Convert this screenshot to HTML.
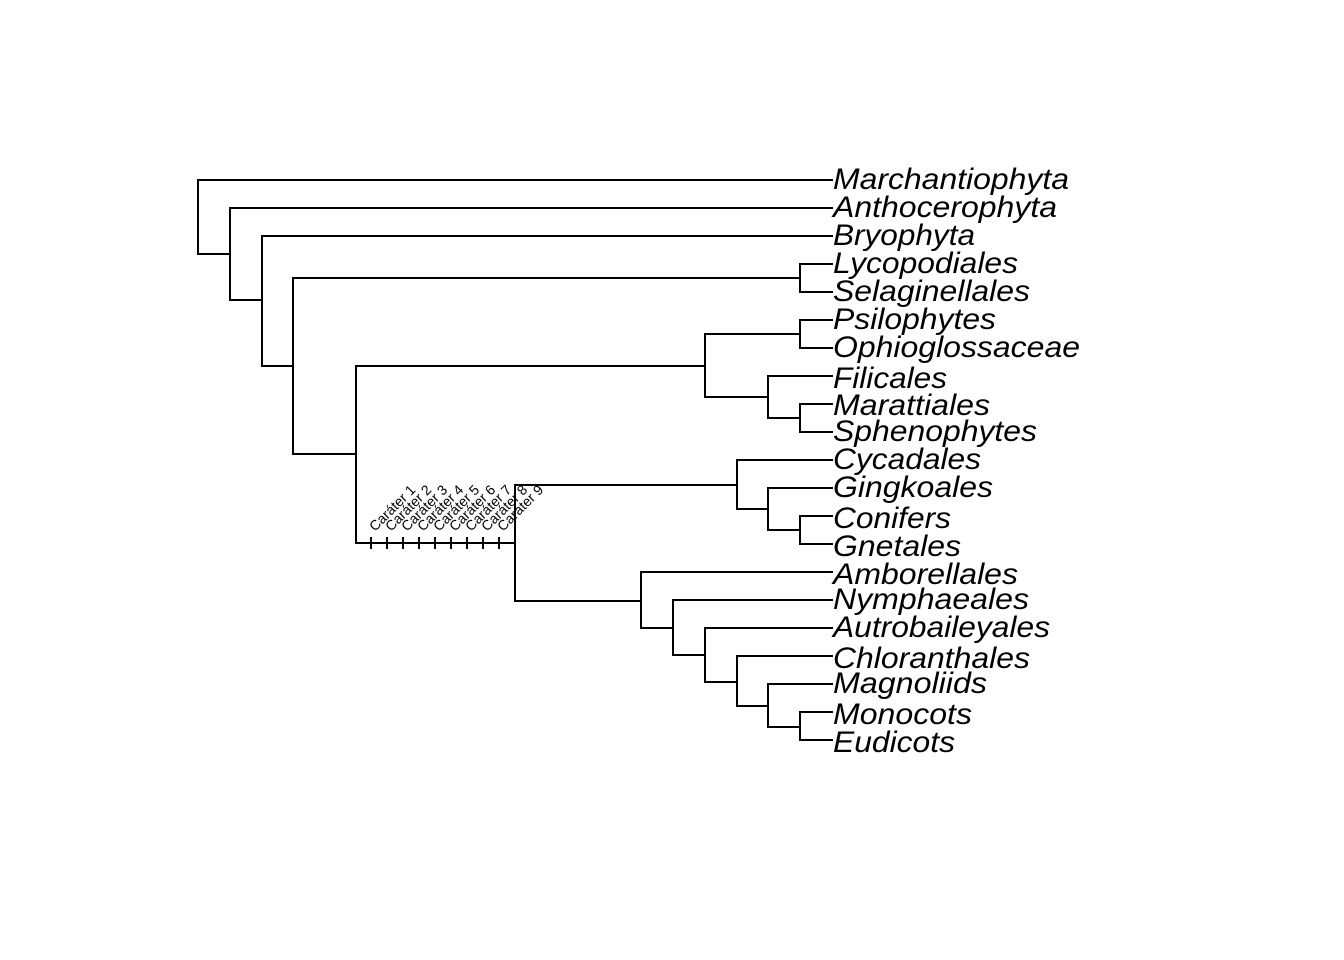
<!DOCTYPE html>
<html><head><meta charset="utf-8"><style>html,body{margin:0;padding:0;background:#fff}svg{display:block}</style></head>
<body>
<svg width="1344" height="960" xmlns="http://www.w3.org/2000/svg">
<g stroke="#000" stroke-width="2" fill="none" stroke-linecap="square">
<path d="M198 180V254M198 180H832M198 254H230"/>
<path d="M230 208V300M230 208H832M230 300H262"/>
<path d="M262 236V366M262 236H832M262 366H293"/>
<path d="M293 278V454M293 278H800M293 454H356"/>
<path d="M800 264V292M800 264H832M800 292H832"/>
<path d="M356 366V543M356 366H705M356 543H515"/>
<path d="M705 334V397M705 334H800M705 397H768"/>
<path d="M800 320V348M800 320H832M800 348H832"/>
<path d="M768 376V418M768 376H832M768 418H800"/>
<path d="M800 404V432M800 404H832M800 432H832"/>
<path d="M515 485V601M515 485H737M515 601H641"/>
<path d="M737 460V509M737 460H832M737 509H768"/>
<path d="M768 488V530M768 488H832M768 530H800"/>
<path d="M800 516V544M800 516H832M800 544H832"/>
<path d="M641 572V628M641 572H832M641 628H673"/>
<path d="M673 600V655M673 600H832M673 655H705"/>
<path d="M705 628V682M705 628H832M705 682H737"/>
<path d="M737 656V706M737 656H832M737 706H768"/>
<path d="M768 684V727M768 684H832M768 727H800"/>
<path d="M800 712V740M800 712H832M800 740H832"/>
<path d="M371 537V549M387 537V549M403 537V549M419 537V549M435 537V549M451 537V549M467 537V549M483 537V549M499 537V549" stroke-linecap="butt"/>
</g>
<g font-family="Liberation Sans, sans-serif" font-size="14" fill="#000">
<text transform="translate(375,532) rotate(-45)">Caráter 1</text>
<text transform="translate(391,532) rotate(-45)">Caráter 2</text>
<text transform="translate(407,532) rotate(-45)">Caráter 3</text>
<text transform="translate(423,532) rotate(-45)">Caráter 4</text>
<text transform="translate(439,532) rotate(-45)">Caráter 5</text>
<text transform="translate(455,532) rotate(-45)">Caráter 6</text>
<text transform="translate(471,532) rotate(-45)">Caráter 7</text>
<text transform="translate(487,532) rotate(-45)">Caráter 8</text>
<text transform="translate(503,532) rotate(-45)">Caráter 9</text>
</g>
<g font-family="Liberation Sans, sans-serif" font-style="italic" font-size="30" fill="#000">
<text x="833" y="189" textLength="236" lengthAdjust="spacingAndGlyphs">Marchantiophyta</text>
<text x="833" y="217" textLength="224" lengthAdjust="spacingAndGlyphs">Anthocerophyta</text>
<text x="833" y="245" textLength="142" lengthAdjust="spacingAndGlyphs">Bryophyta</text>
<text x="833" y="273" textLength="185" lengthAdjust="spacingAndGlyphs">Lycopodiales</text>
<text x="833" y="301" textLength="197" lengthAdjust="spacingAndGlyphs">Selaginellales</text>
<text x="833" y="329" textLength="163" lengthAdjust="spacingAndGlyphs">Psilophytes</text>
<text x="833" y="357" textLength="247" lengthAdjust="spacingAndGlyphs">Ophioglossaceae</text>
<text x="833" y="388" textLength="114" lengthAdjust="spacingAndGlyphs">Filicales</text>
<text x="833" y="415" textLength="157" lengthAdjust="spacingAndGlyphs">Marattiales</text>
<text x="833" y="441" textLength="204" lengthAdjust="spacingAndGlyphs">Sphenophytes</text>
<text x="833" y="469" textLength="148" lengthAdjust="spacingAndGlyphs">Cycadales</text>
<text x="833" y="497" textLength="160" lengthAdjust="spacingAndGlyphs">Gingkoales</text>
<text x="833" y="528" textLength="118" lengthAdjust="spacingAndGlyphs">Conifers</text>
<text x="833" y="556" textLength="128" lengthAdjust="spacingAndGlyphs">Gnetales</text>
<text x="833" y="584" textLength="185" lengthAdjust="spacingAndGlyphs">Amborellales</text>
<text x="833" y="609" textLength="196" lengthAdjust="spacingAndGlyphs">Nymphaeales</text>
<text x="833" y="637" textLength="217" lengthAdjust="spacingAndGlyphs">Autrobaileyales</text>
<text x="833" y="668" textLength="197" lengthAdjust="spacingAndGlyphs">Chloranthales</text>
<text x="833" y="693" textLength="154" lengthAdjust="spacingAndGlyphs">Magnoliids</text>
<text x="833" y="724" textLength="139" lengthAdjust="spacingAndGlyphs">Monocots</text>
<text x="833" y="752" textLength="122" lengthAdjust="spacingAndGlyphs">Eudicots</text>
</g>
</svg>
</body></html>
